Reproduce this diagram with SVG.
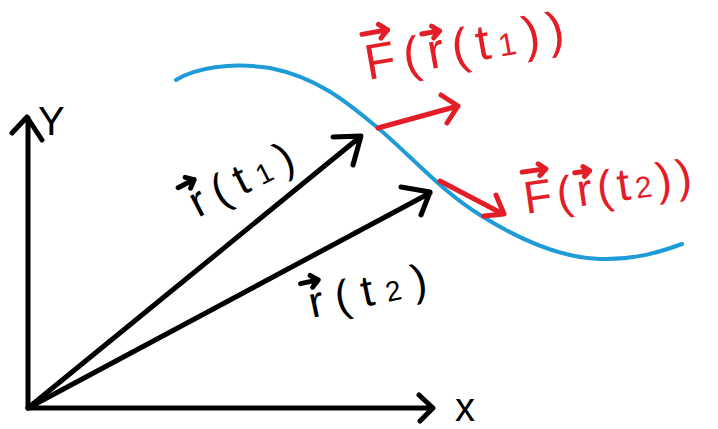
<svg xmlns="http://www.w3.org/2000/svg" width="718" height="429" viewBox="0 0 718 429">
<style>
.k{fill:none;stroke:#000;stroke-width:5;stroke-linecap:round;stroke-linejoin:round}
.rd{fill:none;stroke:#e31e26;stroke-width:5;stroke-linecap:round;stroke-linejoin:round}
.bl{fill:none;stroke:#1f9bd7;stroke-width:4;stroke-linecap:round}
.tk{font-family:"Liberation Sans",Arial,sans-serif;fill:#000}
.tr{font-family:"Liberation Sans",Arial,sans-serif;fill:#e31e26}
</style>
<rect width="718" height="429" fill="#fff"/>
<g id="curve">
<path class="bl" d="M176,80 C195,68 230,62 270,68 C320,78 350,105 378,128 C410,155 440,190 480,215 C520,240 560,258 600,259 C635,260 660,252 682,244"/>
</g>
<g id="axes">
<path class="k" d="M28,408 L28,118 M12,133 L27,117 L42,140"/>
<path class="k" d="M28,408 L432,408 M419,395 L433,408 L420,421"/>
<text class="tk" x="38" y="135" font-size="40">Y</text>
<text class="tk" x="455" y="421" font-size="40">x</text>
</g>
<g id="connectors">
<path class="k" d="M28,408 L360,137 M333,137 L361,136 L353,165"/>
<path class="k" d="M28,408 L430,193 M401,187 L430,192 L421,215"/>
<path class="rd" d="M378,128 L458,106 M441,95 L458,106 L447,123"/>
<path class="rd" d="M440,181 L503,214 M496,195 L504,214 L484,216"/>
</g>
<g id="label-r1" transform="translate(198,218) rotate(-27)">
<text class="tk" x="0" y="0" font-size="44" letter-spacing="10">r(t<tspan font-size="28">1</tspan>)</text>
<path class="k" stroke-width="4" d="M-4,-36 L14,-36 M7,-42 L14,-36 L7,-30"/>
</g>
<g id="label-r2" transform="translate(312,318) rotate(-12)">
<text class="tk" x="0" y="0" font-size="44" letter-spacing="12">r(t<tspan font-size="28">2</tspan>)</text>
<path class="k" stroke-width="4" d="M-4,-36 L14,-36 M7,-42 L14,-36 L7,-30"/>
</g>
<g id="label-F1" transform="translate(368,80) rotate(-10)">
<text class="tr" x="0" y="0" font-size="50" letter-spacing="8">F(r(t<tspan font-size="32">1</tspan>))</text>
<path class="rd" stroke-width="4" d="M2,-46 L28,-46 M20,-53 L28,-46 L20,-39"/>
<path class="rd" stroke-width="4" d="M61,-36 L79,-36 M72,-42 L79,-36 L72,-30"/>
</g>
<g id="label-F2" transform="translate(526,214) rotate(-8)">
<text class="tr" x="0" y="0" font-size="46" letter-spacing="5">F(r(t<tspan font-size="30">2</tspan>))</text>
<path class="rd" stroke-width="4" d="M2,-42 L26,-42 M19,-48 L26,-42 L19,-36"/>
<path class="rd" stroke-width="4" d="M54,-34 L69,-34 M63,-39 L69,-34 L63,-29"/>
</g>
</svg>
